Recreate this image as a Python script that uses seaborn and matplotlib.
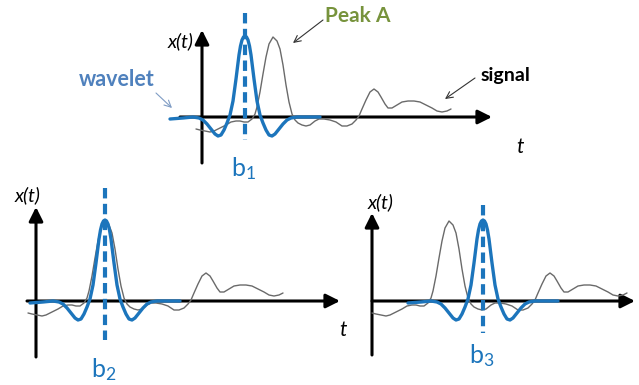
import numpy as np
import pandas as pd
import seaborn as sns
import matplotlib.pyplot as plt

# signal shape (t, x), in pixel-ish units from the origin
sig_t = [-6, -2, 3, 8, 12, 16, 20, 24, 29, 34, 38, 42, 46, 50, 53, 55, 58, 61, 64, 67,
         71, 75, 78, 81, 84, 87, 90, 93, 96, 100, 104, 108, 113, 117, 122, 128, 134,
         140, 145, 150, 154, 157, 160, 164, 168, 172, 176, 179, 183, 186, 190, 195,
         200, 206, 212, 218, 224, 230, 235, 240, 245, 249]
sig_x = [-12, -13, -14, -15, -14, -12, -10, -8, -5, -4, -4, -5, -5, -2, 3, 10, 25, 43, 60, 73,
         80, 76, 68, 52, 32, 15, 3, -3, -6, -8, -9, -8, -4, -2, -2, -3, -5,
         -9, -9, -7, -3, 1, 8, 17, 25, 28, 25, 20, 13, 9, 9, 12,
         15, 16, 16, 15, 12, 9, 6, 5, 6, 8]

# wavelet shape relative to its centre b
wav_d = [-75, -62, -52, -46, -42, -38, -34, -30, -27, -24, -21, -18, -15, -12, -9, -6, -4.5, -3,
         -1.5, 0, 1.5, 3, 4.5, 6, 9, 12, 15, 18, 21, 24, 27, 30, 34, 38, 42, 46, 52, 62, 75]
wav_x = [-2, -1, 0, -1, -3, -7, -12, -17, -19, -18, -13, -6, 2, 16, 38, 62, 71, 77,
         80, 81, 80, 77, 71, 62, 38, 16, 2, -6, -13, -18, -19, -17, -12, -7, -3, -1, 0, 0, 0]

b_pos = [43, 69, 111]
sig_shift = [0, -2, 6]
b_labels = ["b$_1$", "b$_2$", "b$_3$"]

W, H = 639, 385
BLUE = "#1c75bc"

sns.set_theme(style="white")
plt.rcParams["font.family"] = ["Lato", "DejaVu Sans"]
plt.rcParams["mathtext.default"] = "regular"

fig = plt.figure(figsize=(W / 100, H / 100), dpi=100)

# per panel layout: origin in image px, limits, axis extents, dash extents, label spots
panels = [
    dict(origin=(202, 117), xlim=(-40, 300), ylim=(-65, 105), xax=(-22, 290), yax=(-46, 87),
         dash=(-23, 104), xt=(-21, 76), tl=(318, -30), bl=-52),
    dict(origin=(36, 301), xlim=(-30, 310), ylim=(-80, 115), xax=(-9, 304), yax=(-56, 94),
         dash=(-39, 113), xt=(-8, 106), tl=(307, -29), bl=-69),
    dict(origin=(372, 301), xlim=(-20, 265), ylim=(-70, 110), xax=(0, 263), yax=(-54, 88),
         dash=(-32, 96), xt=(9, 99), tl=None, bl=-55),
]

axes = []
for i, p in enumerate(panels):
    ox, oy = p["origin"]
    x0, x1 = p["xlim"]
    y0, y1 = p["ylim"]
    ax = fig.add_axes([(ox + x0) / W, (H - oy + y0) / H, (x1 - x0) / W, (y1 - y0) / H])
    ax.set_xlim(x0, x1)
    ax.set_ylim(y0, y1)
    ax.axis("off")
    ax.patch.set_alpha(0)

    arrow = dict(arrowstyle="-|>,head_length=0.7,head_width=0.35", lw=2.2, color="black",
                 shrinkA=0, shrinkB=0)
    ax.annotate("", xy=(p["xax"][1], 0), xytext=(p["xax"][0], 0), arrowprops=arrow, zorder=1)
    ax.annotate("", xy=(0, p["yax"][1]), xytext=(0, p["yax"][0]), arrowprops=arrow, zorder=1)

    sig = pd.DataFrame({"t": np.array(sig_t) + sig_shift[i], "x": sig_x})
    sns.lineplot(data=sig, x="t", y="x", ax=ax, color="#6a6a6a", lw=1.0, zorder=2)

    wav = pd.DataFrame({"t": np.array(wav_d) + b_pos[i], "x": wav_x})
    sns.lineplot(data=wav, x="t", y="x", ax=ax, color=BLUE, lw=2.4, zorder=3)

    # dashed centre line, drawn top-down so the pattern starts with a full dash
    ax.plot([b_pos[i], b_pos[i]], [p["dash"][1], p["dash"][0]], color=BLUE, lw=3,
            linestyle=(0, (2.5, 1.3)), zorder=4)

    ax.text(b_pos[i] - 1, p["bl"], b_labels[i], color=BLUE, fontsize=18,
            ha="center", va="center")
    ax.text(p["xt"][0], p["xt"][1], "x(t)", style="italic", fontsize=14,
            ha="center", va="center", color="black")
    if p["tl"] is not None:
        ax.text(p["tl"][0], p["tl"][1], "t", style="italic", fontsize=15,
                ha="center", va="center", color="black")
    axes.append(ax)

top = axes[0]
top.text(156, 101, "Peak A", color="#77933c", fontsize=15, fontweight="bold",
         ha="center", va="center")
top.annotate("", xy=(91, 74), xytext=(121, 97),
             arrowprops=dict(arrowstyle="->", lw=0.8, color="#333333", shrinkA=0, shrinkB=0))
top.text(303, 42, "signal", color="black", fontsize=14, fontweight="bold",
         ha="center", va="center")
top.annotate("", xy=(243, 18), xytext=(273, 39),
             arrowprops=dict(arrowstyle="->", lw=0.8, color="#333333", shrinkA=0, shrinkB=0))
top.text(-85, 37, "wavelet", color="#4f81bd", fontsize=15.5, fontweight="bold",
         ha="center", va="center")
top.annotate("", xy=(-30, 9), xytext=(-46, 24),
             arrowprops=dict(arrowstyle="->", lw=0.8, color="#7f9cc4", shrinkA=0, shrinkB=0))

fig.savefig("out.png", dpi=100)
